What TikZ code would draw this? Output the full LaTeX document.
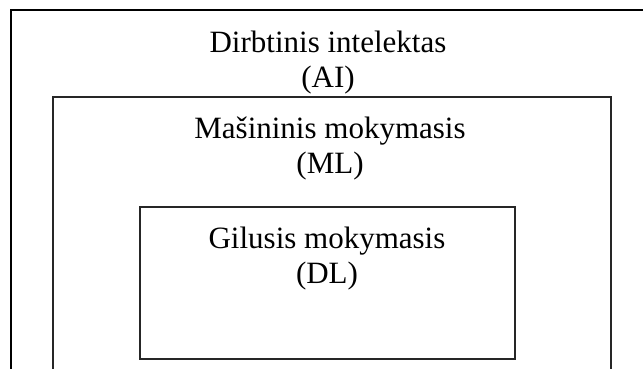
\documentclass[tikz,border=0pt]{standalone}
\usepackage{fontspec}
\setmainfont{Liberation Serif}
\begin{document}
\begin{tikzpicture}[x=1pt,y=-1pt,
  frame/.style={draw=black!85, line width=1.3pt, inner sep=0pt, outer sep=0pt, anchor=north west},
  caption/.style={font=\fontsize{31}{35}\selectfont, align=center, anchor=base, inner sep=0pt}]
\useasboundingbox (0,0) rectangle (643,369);
\clip (0,0) rectangle (643,369);
% nested frames: AI contains ML contains DL
\node[frame, draw=black, minimum width=660pt, minimum height=400pt] (ai) at (11,10) {};
\node[frame, minimum width=558pt, minimum height=300pt] (ml) at (53,97) {};
\node[frame, minimum width=375pt, minimum height=152pt] (dl) at (140,207) {};
% captions (anchored at the baseline of the last line)
\node[caption] (aitext) at (328,88) {Dirbtinis intelektas\\(AI)};
\node[caption] (mltext) at (330,173) {Mašininis mokymasis\\(ML)};
\node[caption] (dltext) at (327,283) {Gilusis mokymasis\\(DL)};
\end{tikzpicture}
\end{document}
